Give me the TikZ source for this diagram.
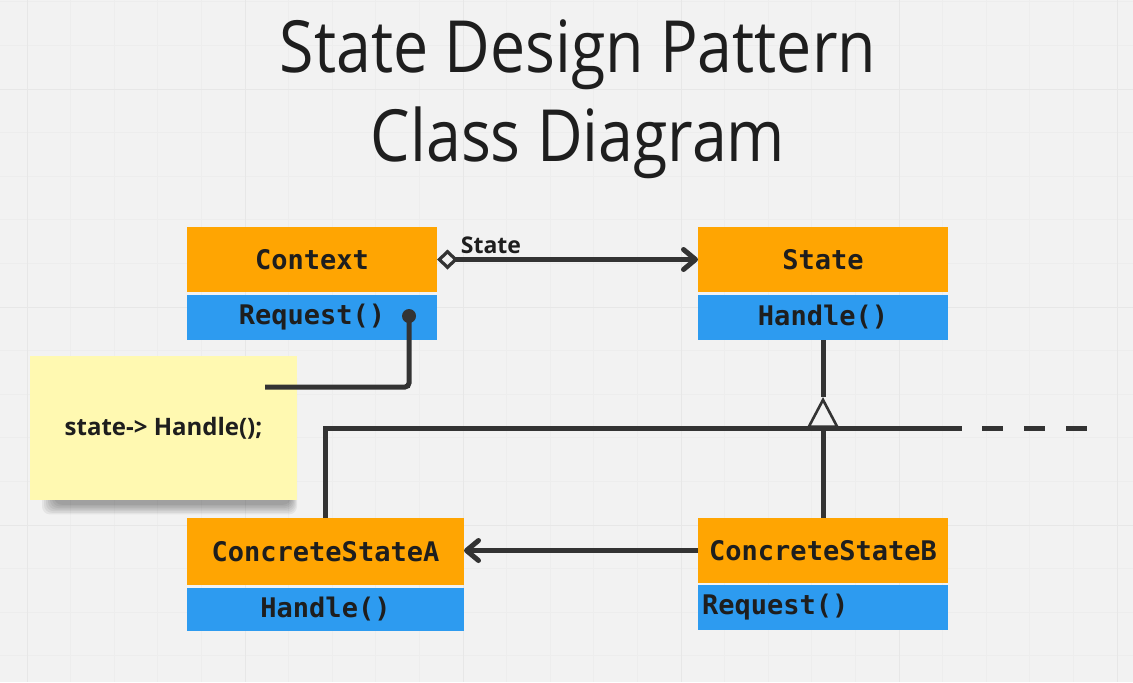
\documentclass[tikz,border=0pt]{standalone}
\usepackage{fontspec}
\setmainfont{Open Sans}
\newfontfamily\titlefont[FakeStretch=0.87]{Open Sans}
\newfontfamily\codefont{DejaVu Sans Mono}
\usepackage{tikz}
\usetikzlibrary{positioning,arrows.meta,calc}
\definecolor{board}{HTML}{F2F2F2}
\definecolor{gridminor}{HTML}{EDEDED}
\definecolor{gridmajor}{HTML}{E7E7E7}
\definecolor{umlorange}{HTML}{FFA502}
\definecolor{umlblue}{HTML}{2D9BF0}
\definecolor{sticky}{HTML}{FFF9B1}
\definecolor{ink}{HTML}{1E1E1E}
\definecolor{wire}{HTML}{333333}

\tikzset{
  classname/.style={fill=umlorange, text=ink, anchor=north west, inner sep=0pt, outer sep=0pt,
    minimum width=125pt, minimum height=32.5pt, font=\codefont\bfseries\fontsize{13.5}{15}\selectfont},
  classop/.style={classname, fill=umlblue, minimum height=22.5pt},
  link/.style={draw=wire, line width=2.5pt},
  barb/.style={-{Straight Barb[length=6pt, width=10pt, line cap=round, line join=round]}},
}

\begin{document}
\begin{tikzpicture}[x=0.5pt, y=-0.5pt]
      \fill[board] (0,0) rectangle (1133,682);
      \useasboundingbox (0,0) rectangle (1133,682);
      % board grid
      \foreach \i in {-1,...,25} \draw[gridminor, line width=0.4pt] ({27+43.6*\i},0) -- ({27+43.6*\i},682);
      \foreach \i in {-2,...,14} \draw[gridminor, line width=0.4pt] (0,{89+43.6*\i}) -- (1133,{89+43.6*\i});
      \foreach \i in {0,...,5} \draw[gridmajor, line width=0.5pt] ({27+218*\i},0) -- ({27+218*\i},682);
      \foreach \i in {0,...,2} \draw[gridmajor, line width=0.5pt] (0,{89+218*\i}) -- (1133,{89+218*\i});

      \node[align=center, text=ink, font=\titlefont\fontsize{36}{44.5}\selectfont] (title) at (578,99) {State Design Pattern\\Class Diagram};

      % classes
      \node[classname] (ctx) at (187,227) {Context};
      \node[classop] (ctxop) at (187,295) {Request()};
      \node[classname] (state) at (698,227) {State};
      \node[classop] (stateop) at (698,295) {Handle()};
      \node[classname, minimum width=138.5pt, minimum height=33.5pt] (csa) at (187,518) {ConcreteStateA};
      \node[classop, minimum width=138.5pt, minimum height=21.5pt] (csaop) at (187,588) {Handle()};
      \node[classname] (csb) at (698,518) {ConcreteStateB};
      \node[classop, text width=121pt, inner xsep=2pt, align=left] (csbop) at (698,585) {Request()};

      % note with its shadow
      \foreach \k in {1,...,7} \fill[black, opacity=0.055, rounded corners=4pt] ({40+2*\k},370) rectangle ({298-\k},{516-1.6*\k});
      \node[fill=sticky, minimum width=133.5pt, minimum height=72pt, inner sep=0pt, text=ink,
        font=\bfseries\fontsize{12}{14}\selectfont] (memo) at (163.5,428) {state-> Handle();};

      % association
      \draw[link, {Diamond[open, line width=1.6pt, length=10.5pt, width=10pt]}-{Straight Barb[length=6pt, width=10pt, line cap=round, line join=round]}] (ctx.east) -- (state.west);
      \node[font=\bfseries\fontsize{11.5}{13}\selectfont, text=ink] (assoclbl) at (491,245) {State};

      % note link
      \node[circle, fill=wire, minimum size=7pt, inner sep=0pt] (reqdot) at (409,316) {};
      \coordinate (memoend) at (265,387);
      \draw[link, rounded corners=2pt] (reqdot.center) |- (memoend);

      % inheritance
      \coordinate (hub) at (823,428);
      \coordinate (apex) at (823,397);
      \coordinate (solidend) at (962,428);
      \coordinate (dashstart) at (982,428);
      \coordinate (dashend) at (1087,428);
      \draw[link] (stateop.south) -- (apex);
      \draw[draw=wire, line width=1.3pt, -{Triangle[open, length=15.5pt, width=16pt, line width=1.3pt]}] (hub) -- (apex);
      \draw[link] (csa.north) |- (solidend);
      \draw[link, dash pattern=on 10.5pt off 10.5pt] (dashstart) -- (dashend);
      \draw[link] (hub) -- (csb.north);

      % dependency
      \draw[link, barb] (csb.west) -- (csb.west -| csa.east);
    \end{tikzpicture}
\end{document}
